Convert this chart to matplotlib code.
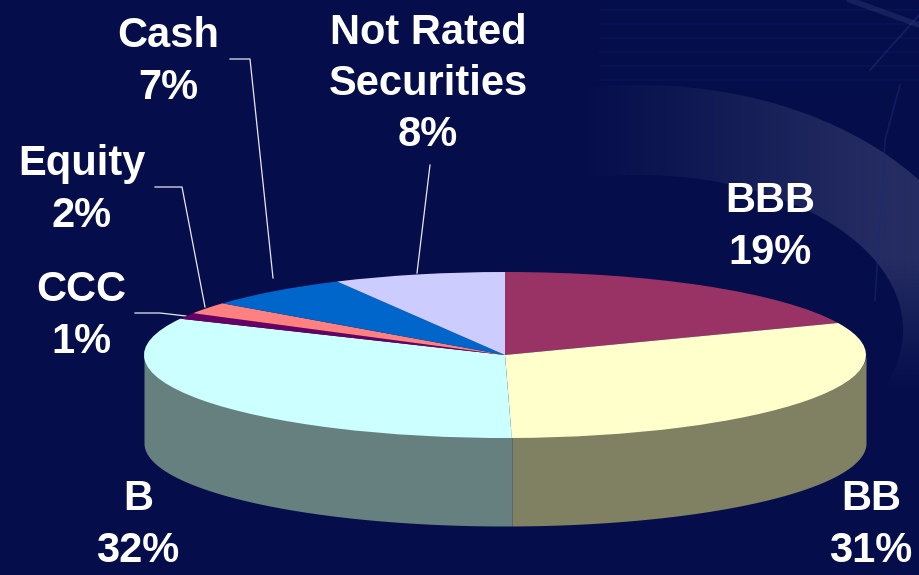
import numpy as np
import matplotlib
matplotlib.use("Agg")
import matplotlib.pyplot as plt
from matplotlib.patches import Annulus

labels = ["BBB", "BB", "B", "CCC", "Equity", "Cash", "Not Rated\nSecurities"]
percents = [19, 31, 32, 1, 2, 7, 8]
# slice sizes as drawn (labels are rounded)
values = [18.7, 31.0, 32.5, 1.2, 2.3, 6.6, 7.7]
top_colors = ["#993366", "#ffffcc", "#ccffff", "#660066", "#ff8080", "#0066cc", "#ccccff"]
wall_colors = ["#7a3352", "#808062", "#668080", "#520052", "#cc6666", "#0052a3", "#a3a3cc"]

W, H = 919, 575
cx, cy, rx, ry = 505, 355, 361, 83
depth = 88 / ry

plt.rcParams["font.family"] = ["Liberation Sans", "DejaVu Sans"]
fig = plt.figure(figsize=(W / 100, H / 100), dpi=100, facecolor="#050d4b")

# background, in pixel coordinates
bg = fig.add_axes([0, 0, 1, 1])
bg.set_xlim(0, W)
bg.set_ylim(H, 0)
bg.axis("off")

# faint curved band, fading out to the left and downwards
band = Annulus((640, 330), (353, 245), 90, fc="none", ec="none")
bg.add_patch(band)
fade = np.zeros((210, 256, 4))
fade[..., 0] = 0x24 / 255
fade[..., 1] = 0x2c / 255
fade[..., 2] = 0x62 / 255
across = np.clip(np.linspace(-0.6, 1.15, 256), 0, 1)
down = np.clip(np.linspace(3.0, -0.2, 210), 0, 1)
fade[..., 3] = np.outer(down, across)
im = bg.imshow(fade, extent=[400, W, 420, 0], aspect="auto", interpolation="bilinear")
im.set_clip_path(band)
bg.set_xlim(0, W)
bg.set_ylim(H, 0)

# scanlines and streaks, top right
for y in [10, 24, 38, 52, 66, 80]:
    bg.plot([600, W], [y, y], color="#0a1560", lw=1.5, alpha=0.5)
bg.plot([850, 919], [0, 25], color="#3a4580", lw=4, alpha=0.35)
bg.plot([900, 885, 875], [85, 140, 300], color="#1c2a78", lw=1.2, alpha=0.5)
bg.plot([919, 870], [15, 70], color="#2b3a8a", lw=1.2, alpha=0.4)

# leader lines
line_kw = dict(color="#e8e8f0", lw=0.9)
bg.plot([230, 250, 273], [59, 59, 278], **line_kw)
bg.plot([430, 417], [165, 273], **line_kw)
bg.plot([155, 182, 205], [187, 187, 307], **line_kw)
bg.plot([135, 160, 186], [313, 313, 316], **line_kw)

# pie, unit circle stretched to the ellipse by the axes limits
ax = fig.add_axes([0, 0, 1, 1], facecolor="none")
edges = np.cumsum([0] + values) / sum(values) * 2 * np.pi
for start, stop, col in zip(edges[:-1], edges[1:], wall_colors):
    lo, hi = max(start, np.pi / 2), min(stop, 3 * np.pi / 2)
    if hi <= lo:
        continue
    t = np.linspace(lo, hi, 120)
    # top edge tucked under the pie so no seam shows
    ax.fill_between(np.sin(t), 0.9 * np.cos(t), np.cos(t) - depth, color=col, lw=0)
ax.pie(values, colors=top_colors, startangle=90, counterclock=False, radius=1,
       wedgeprops=dict(lw=0))
ax.set_aspect("auto")
ax.set_xlim(-cx / rx, (W - cx) / rx)
ax.set_ylim((cy - H) / ry, cy / ry)
ax.axis("off")

# labels
label_pos = [(770, 227), (871, 525), (138, 525), (81, 316), (82, 190), (168, 62), (428, 84)]
for name, val, (x, y) in zip(labels, percents, label_pos):
    bg.text(x, y, f"{name}\n{val}%", color="white", fontsize=30, fontweight="bold",
            ha="center", va="center", linespacing=1.36, clip_on=False)

fig.savefig("out.png", dpi=100, facecolor=fig.get_facecolor())
